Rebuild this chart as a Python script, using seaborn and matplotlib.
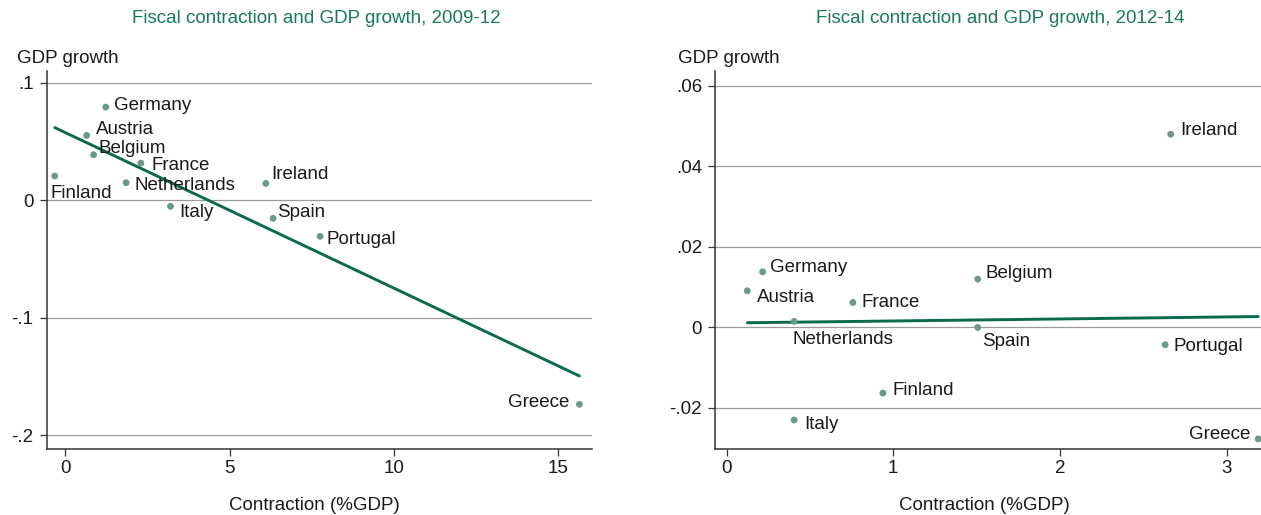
import numpy as np
import pandas as pd
import matplotlib
matplotlib.use("Agg")
import matplotlib.pyplot as plt
import seaborn as sns

# ---- data -------------------------------------------------------------
countries_a = ["Germany", "Austria", "Belgium", "France", "Finland", "Netherlands",
               "Ireland", "Italy", "Spain", "Portugal", "Greece"]
contraction_a = [1.23, 0.65, 0.86, 2.30, -0.32, 1.85, 6.10, 3.20, 6.32, 7.75, 15.64]
growth_a = [0.0793, 0.0552, 0.0388, 0.0317, 0.0207, 0.0150, 0.0144, -0.0051, -0.0153, -0.0306, -0.1735]

countries_b = ["Germany", "Austria", "France", "Belgium", "Netherlands", "Spain",
               "Portugal", "Finland", "Italy", "Greece", "Ireland"]
contraction_b = [0.216, 0.124, 0.758, 1.507, 0.405, 1.507, 2.632, 0.938, 0.405, 3.19, 2.665]
growth_b = [0.0138, 0.0091, 0.0062, 0.0120, 0.0015, 0.0000, -0.0043, -0.0163, -0.0230, -0.0277, 0.0480]

title_a = "Fiscal contraction and GDP growth, 2009-12"
title_b = "Fiscal contraction and GDP growth, 2012-14"

yticks_a = [0.1, 0.0, -0.1, -0.2]
yticklabels_a = [".1", "0", "-.1", "-.2"]
xticks_a = [0, 5, 10, 15]

yticks_b = [0.06, 0.04, 0.02, 0.0, -0.02]
yticklabels_b = [".06", ".04", ".02", "0", "-.02"]
xticks_b = [0, 1, 2, 3]

# label placement: (dx px, dy px, horizontal alignment)
offsets_a = {
    "Germany": (8, 3.3, "left"), "Austria": (8.8, 8.3, "left"),
    "Belgium": (5.2, 8.7, "left"), "France": (10.4, 0, "left"),
    "Finland": (-4.4, -16, "left"), "Netherlands": (8.8, -1.3, "left"),
    "Ireland": (5.6, 11, "left"), "Italy": (8.4, -4.3, "left"),
    "Spain": (4.4, 8, "left"), "Portugal": (6.4, -1, "left"),
    "Greece": (-10.4, 4.3, "right"),
}
offsets_b = {
    "Germany": (7.6, 6.7, "left"), "Austria": (10, -4.7, "left"),
    "France": (8.9, 1.7, "left"), "Belgium": (8, 7.7, "left"),
    "Netherlands": (-1.2, -15.7, "left"), "Spain": (4.8, -12, "left"),
    "Portugal": (8, 0, "left"), "Finland": (9.7, 4.3, "left"),
    "Italy": (9.7, -2.7, "left"), "Greece": (-7.6, 6.3, "right"),
    "Ireland": (9.3, 5.7, "left"),
}

# ---- style ------------------------------------------------------------
sns.set_theme(style="white")
plt.rcParams["font.family"] = ["Liberation Sans", "DejaVu Sans"]
FS = 13.5
plt.rcParams["font.size"] = FS

TITLE_C = "#1a7a58"
DOT_C = "#6a9a85"
LINE_C = "#0a6b4c"
GRID_C = "#9c9c9c"
AXIS_C = "#333333"
TEXT_C = "#1a1a1a"

W, H = 1261, 515
fig = plt.figure(figsize=(W / 100, H / 100), dpi=100)

top_px, bottom_px = 71, 449
ax_a = fig.add_axes([46.7 / W, (H - bottom_px) / H, (591.6 - 46.7) / W, (bottom_px - top_px) / H])
ax_b = fig.add_axes([715.3 / W, (H - bottom_px) / H, (1275 - 715.3) / W, (bottom_px - top_px) / H])


def panel(ax, names, xs, ys, offsets, title, yt, ytl, xt, xlim, ylim,
          ylab_x, xlab_x, title_x):
    df = pd.DataFrame({"country": names, "contraction": xs, "growth": ys})
    ax.set_xlim(*xlim)
    ax.set_ylim(*ylim)
    for v in yt:
        ax.axhline(v, color=GRID_C, lw=0.9, zorder=0)
    sns.regplot(data=df, x="contraction", y="growth", ax=ax, ci=None,
                scatter=False, truncate=True,
                line_kws=dict(color=LINE_C, lw=2.1, zorder=3))
    sns.scatterplot(data=df, x="contraction", y="growth", ax=ax, s=24,
                    color=DOT_C, edgecolor="none", zorder=4)
    for name, x, y in zip(names, xs, ys):
        dx, dy, ha = offsets[name]
        ax.annotate(name, (x, y), xytext=(dx, dy), textcoords="offset pixels",
                    ha=ha, va="center_baseline", fontsize=FS, color=TEXT_C)
    ax.set_xlim(*xlim)
    ax.set_ylim(*ylim)
    ax.set_yticks(yt, ytl)
    ax.set_xticks(xt, [str(v) for v in xt])
    for s in ["top", "right"]:
        ax.spines[s].set_visible(False)
    for s in ["left", "bottom"]:
        ax.spines[s].set_color(AXIS_C)
        ax.spines[s].set_linewidth(1.1)
    ax.tick_params(axis="both", which="major", direction="out", length=5,
                   width=0.9, color=AXIS_C, labelcolor=TEXT_C, labelsize=FS,
                   left=True, bottom=True)
    ax.tick_params(axis="y", pad=4.5)
    ax.tick_params(axis="x", pad=3)
    ax.set_ylabel("GDP growth", rotation=0, ha="left", va="center_baseline",
                  fontsize=FS, color=TEXT_C)
    ax.yaxis.set_label_coords(ylab_x, 1 + (top_px - 57) / (bottom_px - top_px))
    ax.set_xlabel("Contraction (%GDP)", fontsize=FS, color=TEXT_C,
                  va="center_baseline")
    ax.xaxis.set_label_coords(xlab_x, (bottom_px - 504) / (bottom_px - top_px))
    ax.set_title(title, color=TITLE_C, fontsize=FS, pad=0, x=title_x,
                 y=1 + (top_px - 23.5) / (bottom_px - top_px))
    ax.grid(False)


panel(ax_a, countries_a, contraction_a, growth_a, offsets_a, title_a,
      yticks_a, yticklabels_a, xticks_a,
      xlim=(-0.566, 16.01), ylim=(-0.2115, 0.110),
      ylab_x=(17 - 46.7) / (591.6 - 46.7), xlab_x=0.492, title_x=0.494)

panel(ax_b, countries_b, contraction_b, growth_b, offsets_b, title_b,
      yticks_b, yticklabels_b, xticks_b,
      xlim=(-0.068, 3.291), ylim=(-0.0302, 0.0637),
      ylab_x=(677.5 - 715.3) / (1275 - 715.3), xlab_x=0.480, title_x=0.510)

fig.savefig("out.png", dpi=100)
